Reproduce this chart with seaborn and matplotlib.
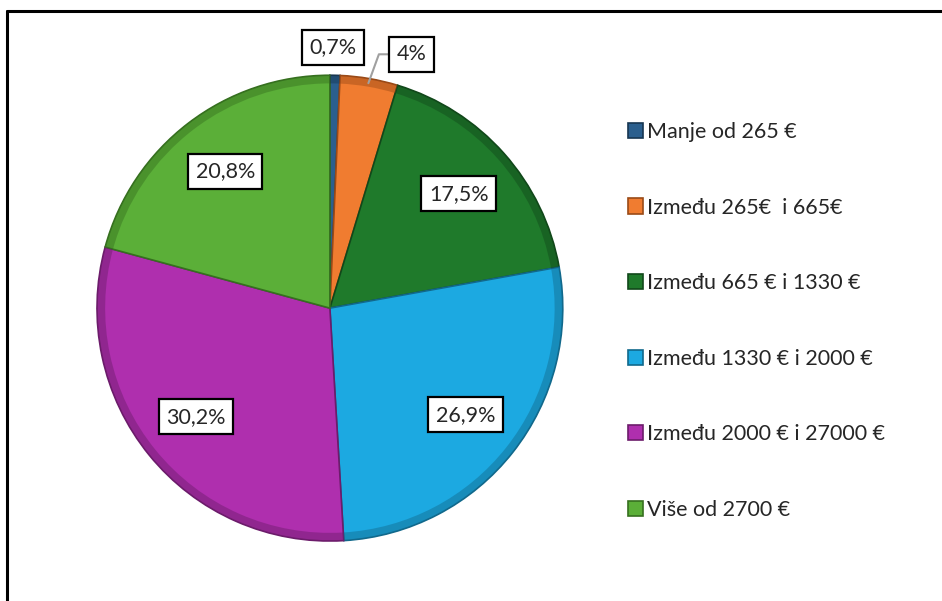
import numpy as np
import matplotlib
matplotlib.use("Agg")
import matplotlib.pyplot as plt
from matplotlib.lines import Line2D
import seaborn as sns

categories = [
    "Manje od 265 €",
    "Između 265€  i 665€",
    "Između 665 € i 1330 €",
    "Između 1330 € i 2000 €",
    "Između 2000 € i 27000 €",
    "Više od 2700 €",
]
shares = [0.7, 4.0, 17.5, 26.9, 30.2, 20.8]
share_labels = ["0,7%", "4%", "17,5%", "26,9%", "30,2%", "20,8%"]
colors = ["#2B5F8E", "#F07C30", "#1F7A2B", "#1CA9E1", "#AF2FAE", "#5BAF38"]
edge_colors = ["#173651", "#9A4A17", "#11481A", "#11698C", "#6C1C6B", "#36701F"]

sns.set_theme(style="white")
plt.rcParams["font.family"] = ["Lato", "DejaVu Sans"]


def main():
    fig = plt.figure(figsize=(9.42, 6.01), dpi=100)
    lim = 1.2
    ax = fig.add_axes([0.0535, 0.0223, 0.5934, 0.930])
    wedges, _ = ax.pie(
        shares,
        colors=colors,
        startangle=90,
        counterclock=False,
        radius=1.0,
        wedgeprops=dict(linewidth=1.2),
    )
    for w, ec in zip(wedges, edge_colors):
        w.set_edgecolor(ec)
    # darker rim to hint at the bevelled look of the original
    ax.pie(
        shares,
        colors=edge_colors,
        startangle=90,
        counterclock=False,
        radius=1.0,
        wedgeprops=dict(width=0.035, linewidth=0, alpha=0.45),
    )
    ax.set_xlim(-lim, lim)
    ax.set_ylim(-lim, lim)
    ax.set_aspect("equal")
    ax.axis("off")

    box = dict(boxstyle="square,pad=0.35", fc="white", ec="black", lw=1.6)
    for i, (w, lab) in enumerate(zip(wedges, share_labels)):
        ang = np.deg2rad((w.theta1 + w.theta2) / 2)
        if i == 0:
            x, y = np.cos(ang) * 1.12, np.sin(ang) * 1.12
            ax.text(x - 0.01, y, lab, ha="center", va="center", fontsize=15.5, bbox=box)
        elif i == 1:
            px, py = np.cos(ang) * 0.98, np.sin(ang) * 0.98
            ax.annotate(
                lab, xy=(px, py), xytext=(0.35, 1.09),
                ha="center", va="center", fontsize=15.5, bbox=box,
                arrowprops=dict(arrowstyle="-", color="#A0A0A0", lw=1.5,
                                connectionstyle="angle,angleA=180,angleB=70,rad=0",
                                shrinkA=0, shrinkB=0),
            )
        else:
            x, y = np.cos(ang) * 0.74, np.sin(ang) * 0.74
            ax.text(x, y, lab, ha="center", va="center", fontsize=15.5, bbox=box)

    fig.legend(
        wedges, categories,
        loc="upper left", bbox_to_anchor=(0.667, 0.797),
        bbox_transform=fig.transFigure,
        frameon=False, fontsize=15.5,
        handlelength=0.7, handleheight=0.7, handletextpad=0.15,
        labelspacing=2.58, borderpad=0, borderaxespad=0,
    )

    # frame around the chart (only top and left edge show in the crop)
    fig.add_artist(Line2D([7 / 942, 1], [1 - 11 / 601, 1 - 11 / 601],
                          transform=fig.transFigure, color="black", lw=2.2))
    fig.add_artist(Line2D([7 / 942, 7 / 942], [0, 1 - 11 / 601],
                          transform=fig.transFigure, color="black", lw=2.2))

    fig.savefig("out.png", dpi=100, facecolor="white")
    plt.close(fig)


if __name__ == "__main__":
    main()
